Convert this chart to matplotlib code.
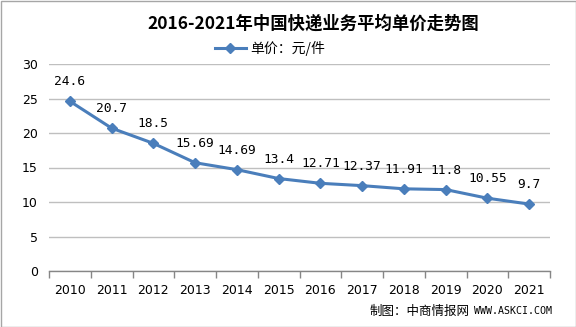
import matplotlib
matplotlib.use("Agg")
import matplotlib.pyplot as plt
from matplotlib.patches import Rectangle
import numpy as np

plt.rcParams['font.family'] = ['Noto Sans CJK SC', 'DejaVu Sans']

years = ['2010', '2011', '2012', '2013', '2014', '2015', '2016', '2017', '2018', '2019', '2020', '2021']
prices = [24.6, 20.7, 18.5, 15.69, 14.69, 13.4, 12.71, 12.37, 11.91, 11.8, 10.55, 9.7]
labels = ['24.6', '20.7', '18.5', '15.69', '14.69', '13.4', '12.71', '12.37', '11.91', '11.8', '10.55', '9.7']
yticks = [0, 5, 10, 15, 20, 25, 30]

fig = plt.figure(figsize=(5.76, 3.27), dpi=100)
ax = fig.add_axes([49/576, 1-271/327, (550-49)/576, (271-64)/327])

x = np.arange(len(years))
color = '#4a7ebb'
line, = ax.plot(x, prices, color=color, lw=2.2, marker='D', markersize=5,
                markerfacecolor=color, markeredgecolor=color, label='单价：元/件', zorder=3)

for xi, v, t in zip(x, prices, labels):
    ax.annotate(t, (xi, v), xytext=(0, 14), textcoords='offset points',
                ha='center', va='center', fontsize=9.3, family='DejaVu Sans Mono', color='black')

ax.set_xlim(-0.5, len(years) - 0.5)
ax.set_ylim(0, 30)
ax.set_yticks(yticks)
ax.set_yticklabels([str(v) for v in yticks], fontsize=9, family='DejaVu Sans')
ax.set_xticks(x)
ax.set_xticklabels(years, fontsize=9, family='DejaVu Sans')
ax.set_xticks(np.arange(-0.5, len(years), 1), minor=True)
ax.tick_params(axis='x', which='major', length=0, pad=9)
ax.tick_params(axis='x', which='minor', length=5, color='#868686', width=1)
ax.tick_params(axis='y', length=0, pad=8)
ax.grid(axis='y', color='#bfbfbf', lw=1)
ax.set_axisbelow(True)
for s in ['top', 'right', 'left']:
    ax.spines[s].set_visible(False)
ax.spines['bottom'].set_color('#868686')
ax.spines['bottom'].set_linewidth(1)

fig.text(313/576, 1-24/327, '2016-2021年中国快递业务平均单价走势图', ha='center', va='center',
         fontsize=12.5, fontweight='bold')
leg = fig.legend(handles=[line], loc='center', bbox_to_anchor=(270/576, 1-48/327), frameon=False,
                 fontsize=10, handlelength=2.2, handletextpad=0.3, borderpad=0)
fig.text(470/576, 1-311/327, '制图：中商情报网', ha='right', va='center', fontsize=9)
fig.text(474/576, 1-311/327, 'WWW.ASKCI.COM', ha='left', va='center', fontsize=7.2,
         family='DejaVu Sans Mono')

fig.patches.append(Rectangle((0.5/576, 0.5/327), 1-1/576, 1-1/327, transform=fig.transFigure,
                             fill=False, edgecolor='#a6a6a6', lw=1))

fig.savefig('out.png', dpi=100)
